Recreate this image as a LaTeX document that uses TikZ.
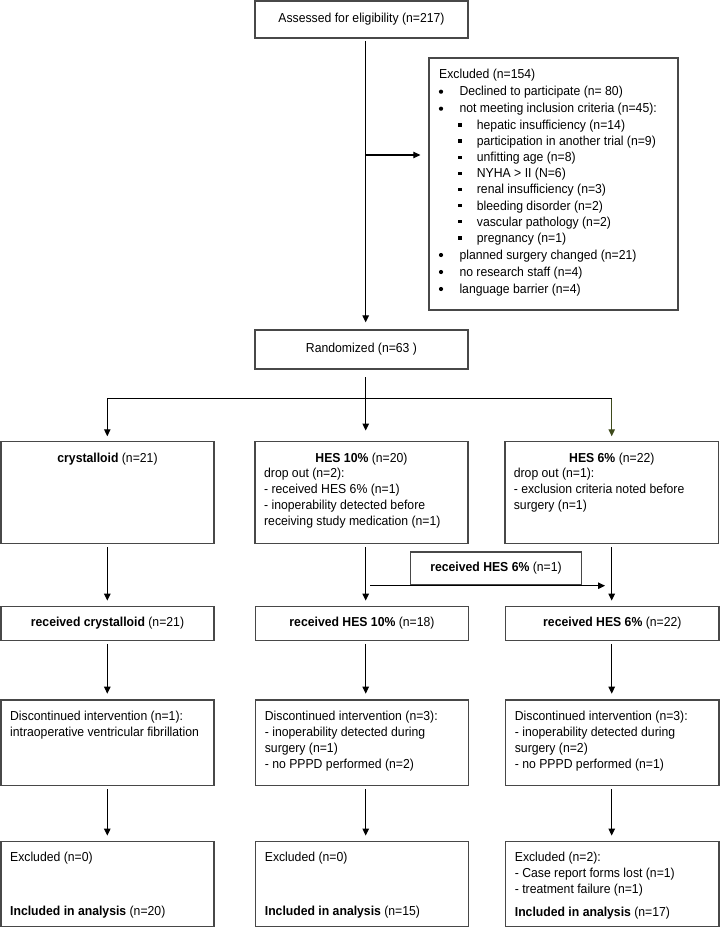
\documentclass[tikz,border=0pt]{standalone}
\usepackage{fontspec}
\setmainfont{Liberation Sans}[FakeStretch=0.94]
\usetikzlibrary{arrows.meta}
\definecolor{boxgray}{RGB}{72,72,72}
\definecolor{olivearr}{RGB}{62,74,28}
\tikzset{
  box/.style={draw=boxgray, line width=1.3pt, inner sep=0pt, fill=white},
  txt/.style={anchor=base west, inner sep=0pt},
  arr/.style={-{Triangle[length=7pt,width=6.5pt]}, line width=1.1pt, black},
  conn/.style={arr, shorten <=3pt, shorten >=5.5pt},
  plain/.style={line width=1.1pt, black},
}
\begin{document}
\begin{tikzpicture}[x=1pt,y=-1pt, every node/.style={font=\fontsize{13}{16}\selectfont}]
\useasboundingbox (0,0) rectangle (720,928);
% column lines
\coordinate (colA) at (107.3,0);
\coordinate (colB) at (365.7,0);
\coordinate (colC) at (611.7,0);
% boxes
\node[box, minimum width=213pt, minimum height=37pt] (assess) at (361.5,19.5) {\raisebox{-1pt}{Assessed for eligibility (n=217)}};
\node[box, minimum width=249pt, minimum height=252pt] (excl) at (553.5,184) {};
\node[box, minimum width=213pt, minimum height=39pt] (rand) at (361.5,349.5) {\raisebox{3pt}{Randomized (n=63 )}};
\node[box, minimum width=213pt, minimum height=102pt] (c1) at (107.5,492.5) {};
\node[box, minimum width=213pt, minimum height=102pt] (c2) at (361.5,492.5) {};
\node[box, minimum width=213.5pt, minimum height=102pt] (c3) at (611.75,492.5) {};
\node[box, minimum width=171pt, minimum height=33pt] (mv) at (496,568.5) {{\bfseries received HES 6\%} (n=1)};
\node[box, minimum width=213pt, minimum height=33.5pt] (r1) at (107.5,623.5) {{\bfseries received crystalloid} (n=21)};
\node[box, minimum width=212.6pt, minimum height=33.5pt] (r2) at (362,623.5) {{\bfseries received HES 10\%} (n=18)};
\node[box, minimum width=213.3pt, minimum height=33.5pt] (r3) at (612.35,623.5) {{\bfseries received HES 6\%} (n=22)};
\node[box, minimum width=213pt, minimum height=85.5pt] (d1) at (107.5,742.6) {};
\node[box, minimum width=212.6pt, minimum height=85.5pt] (d2) at (362,742.6) {};
\node[box, minimum width=213.3pt, minimum height=85.5pt] (d3) at (612.35,742.6) {};
\node[box, minimum width=213pt, minimum height=85pt] (e1) at (107.5,884.2) {};
\node[box, minimum width=212.6pt, minimum height=85pt] (e2) at (362,884.2) {};
\node[box, minimum width=213.3pt, minimum height=85pt] (e3) at (612.35,884.2) {};

% excluded box text
\node[txt] (x0) at (439,79) {Excluded (n=154)};
\foreach \yy/\t [count=\i] in {91.7/Declined to participate (n= 80), 108.7/not meeting inclusion criteria (n=45):, 255/planned surgery changed (n=21), 272/no research staff (n=4), 289/language barrier (n=4)}{
  \fill (441,\yy) circle [radius=2.1pt];
  \node[txt] (xb\i) at (459.3,\yy+4.3) {\t};
}
\foreach \yy/\t [count=\i] in {125/hepatic insufficiency (n=14), 141/participation in another trial (n=9), 157.3/unfitting age (n=8), 173.3/NYHA > II (N=6), 189.3/renal insufficiency (n=3), 205.7/bleeding disorder (n=2), 221.7/vascular pathology (n=2), 238/pregnancy (n=1)}{
  \fill (458.4,\yy-1.7) rectangle ++(3.4,3.4);
  \node[txt] (xs\i) at (476.7,\yy+4.3) {\t};
}

% column box titles
\node[anchor=base, inner sep=0pt] (c1t) at (107.5,462.3) {{\bfseries crystalloid} (n=21)};
\node[anchor=base, inner sep=0pt] (c2t) at (361.5,462.3) {{\bfseries HES 10\%} (n=20)};
\node[anchor=base, inner sep=0pt] (c3t) at (611.8,462.3) {{\bfseries HES 6\%} (n=22)};
\foreach \t [count=\i] in {drop out (n=2):, - received HES 6\% (n=1), - inoperability detected before, receiving study medication (n=1)}{
  \path (c2.north west) ++(9.6,{37+16*(\i-1)}) node[txt] (c2l\i) {\t};
}
\foreach \t [count=\i] in {drop out (n=1):, - exclusion criteria noted before, surgery (n=1)}{
  \path (c3.north west) ++(9.3,{37+16*(\i-1)}) node[txt] (c3l\i) {\t};
}

% discontinued texts
\foreach \t [count=\i] in {Discontinued intervention (n=1):, intraoperative ventricular fibrillation}{
  \path (d1.north west) ++(9.6,{21.3+16*(\i-1)}) node[txt] (d1l\i) {\t};
}
\foreach \t [count=\i] in {Discontinued intervention (n=3):, - inoperability detected during, surgery (n=1), - no PPPD performed (n=2)}{
  \path (d2.north west) ++(9.6,{21.3+16*(\i-1)}) node[txt] (d2l\i) {\t};
}
\foreach \t [count=\i] in {Discontinued intervention (n=3):, - inoperability detected during, surgery (n=2), - no PPPD performed (n=1)}{
  \path (d3.north west) ++(9.6,{21.3+16*(\i-1)}) node[txt] (d3l\i) {\t};
}

% final excluded texts
\path (e1.north west) ++(9.6,20.9) node[txt] (e1a) {Excluded (n=0)};
\path (e1.north west) ++(9.6,74.9) node[txt] (e1b) {{\bfseries Included in analysis} (n=20)};
\path (e2.north west) ++(9.6,20.9) node[txt] (e2a) {Excluded (n=0)};
\path (e2.north west) ++(9.6,74.9) node[txt] (e2b) {{\bfseries Included in analysis} (n=15)};
\foreach \t [count=\i] in {Excluded (n=2):, - Case report forms lost (n=1), - treatment failure (n=1)}{
  \path (e3.north west) ++(9.6,{20.9+16*(\i-1)}) node[txt] (e3l\i) {\t};
}
\path (e3.north west) ++(9.6,75.6) node[txt] (e3b) {{\bfseries Included in analysis} (n=17)};

% connectors
\draw[arr, shorten <=2.3pt, shorten >=7pt] (assess.south -| colB) -- (rand.north -| colB);
\coordinate (bx) at (365.7,155);
\draw[arr, shorten >=8pt] (bx) -- (excl.west |- bx);
\coordinate (split) at (365.7,398.7);
\draw[arr, shorten <=7.5pt, shorten >=10.3pt] (rand.south -| colB) -- (c2.north -| colB);
\draw[plain] (colA |- split) -- (colC |- split);
\draw[arr, shorten >=4.6pt] (colA |- split) -- (c1.north -| colA);
\draw[arr, olivearr, shorten >=4.6pt] (colC |- split) -- (c3.north -| colC);

\draw[conn] (c1.south -| colA) -- (r1.north -| colA);
\draw[conn] (c2.south -| colB) -- (r2.north -| colB);
\draw[conn] (c3.south -| colC) -- (r3.north -| colC);
\coordinate (h6) at (0,585.7);
\draw[arr, shorten <=4.3pt, shorten >=6.7pt] (colB |- h6) -- (colC |- h6);

\draw[conn] (r1.south -| colA) -- (d1.north -| colA);
\draw[conn] (r2.south -| colB) -- (d2.north -| colB);
\draw[conn] (r3.south -| colC) -- (d3.north -| colC);

\draw[conn] (d1.south -| colA) -- (e1.north -| colA);
\draw[conn] (d2.south -| colB) -- (e2.north -| colB);
\draw[conn] (d3.south -| colC) -- (e3.north -| colC);
\end{tikzpicture}
\end{document}
